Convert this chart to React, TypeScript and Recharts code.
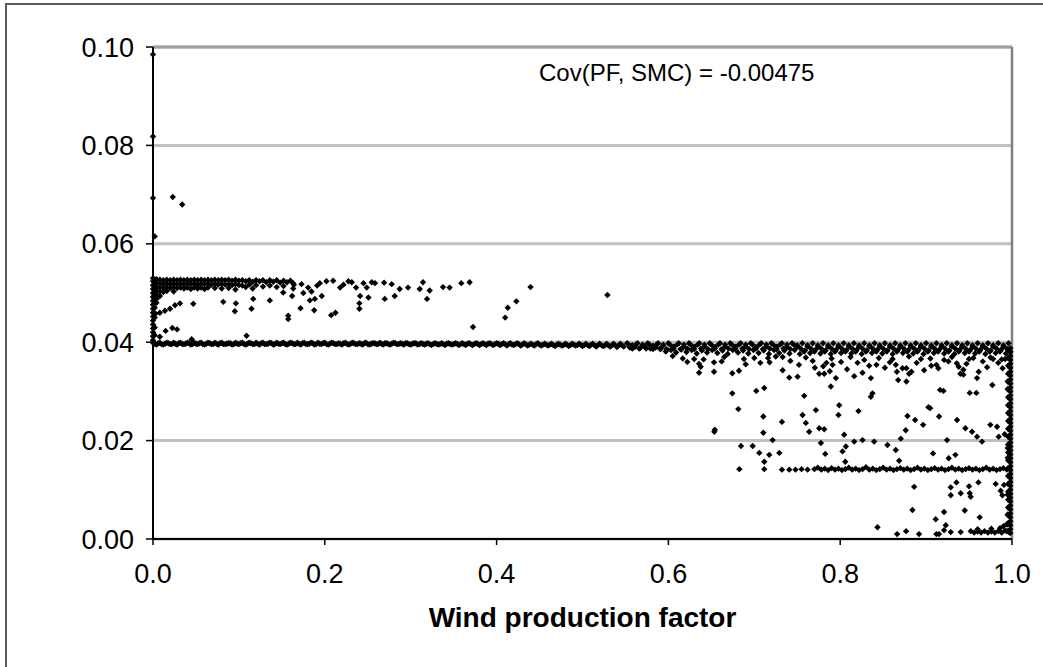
import { ScatterChart, Scatter, XAxis, YAxis, CartesianGrid, ReferenceLine } from "recharts";

type Pt = [number, number];

const xTicks = [0, 0.2, 0.4, 0.6, 0.8, 1.0];
const yTicks = [0, 0.02, 0.04, 0.06, 0.08, 0.1];
const xTitle = "Wind production factor";
const note = "Cov(PF, SMC) = -0.00475";

// isolated high prices near zero wind
const outliers: Pt[] = [
  [0, 0.0985], [0, 0.0818], [0, 0.0693], [0.002, 0.0615], [0.023, 0.0695], [0.034, 0.068],
];

// pile of points sitting on x = 0
const zeroColumn: Pt[] = [
  [0, 0.0404], [0, 0.0412], [0, 0.042], [0, 0.0428], [0, 0.0436], [0, 0.0444], [0, 0.0452],
  [0, 0.046], [0, 0.0468], [0, 0.0476], [0, 0.0484], [0, 0.0492], [0, 0.05], [0, 0.0508],
  [0, 0.0516], [0, 0.0524], [0, 0.053], [0.002, 0.043], [0.002, 0.047], [0.002, 0.049],
  [0.002, 0.051], [0.002, 0.0527], [0.002, 0.0414], [0.002, 0.045], [0.003, 0.0458],
];

// dense band around 0.052 at low wind
const upperBand: Pt[] = [
  [0.004, 0.0528], [0.004, 0.052], [0.004, 0.0512], [0.004, 0.0504], [0.004, 0.0496], [0.004, 0.0488], [0.004, 0.048],
  [0.008, 0.0527], [0.008, 0.0519], [0.008, 0.0511], [0.008, 0.0503], [0.008, 0.0494],
  [0.012, 0.0526], [0.012, 0.0518], [0.012, 0.051], [0.012, 0.0502],
  [0.016, 0.0527], [0.016, 0.0519], [0.016, 0.0511], [0.016, 0.0504],
  [0.02, 0.0526], [0.02, 0.0518], [0.02, 0.051],
  [0.024, 0.0527], [0.024, 0.0519], [0.024, 0.0511], [0.024, 0.0503],
  [0.028, 0.0526], [0.028, 0.0518], [0.028, 0.051],
  [0.032, 0.0527], [0.032, 0.0519], [0.032, 0.0511],
  [0.036, 0.0526], [0.036, 0.0518], [0.036, 0.0509],
  [0.04, 0.0527], [0.04, 0.0519], [0.04, 0.0511],
  [0.044, 0.0526], [0.044, 0.0518], [0.044, 0.0508],
  [0.048, 0.0527], [0.048, 0.0519], [0.048, 0.0511],
  [0.052, 0.0526], [0.052, 0.0517], [0.052, 0.0509],
  [0.056, 0.0527], [0.056, 0.0519], [0.056, 0.0511],
  [0.06, 0.0526], [0.06, 0.0518], [0.06, 0.0508],
  [0.064, 0.0527], [0.064, 0.0519], [0.064, 0.0511],
  [0.068, 0.0526], [0.068, 0.0517],
  [0.072, 0.0527], [0.072, 0.0519], [0.072, 0.051],
  [0.076, 0.0526], [0.076, 0.0517],
  [0.08, 0.0527], [0.08, 0.0519], [0.08, 0.0509],
  [0.084, 0.0526], [0.084, 0.0517],
  [0.088, 0.0527], [0.088, 0.0518], [0.088, 0.051],
  [0.092, 0.0525], [0.092, 0.0516],
  [0.096, 0.0527], [0.096, 0.0518], [0.096, 0.0507],
  [0.1, 0.0525], [0.1, 0.0516],
  [0.104, 0.0526], [0.104, 0.0515], [0.108, 0.0524], [0.108, 0.0512], [0.112, 0.0526], [0.112, 0.0517],
  [0.116, 0.0523], [0.116, 0.0509], [0.12, 0.0526], [0.12, 0.0516], [0.124, 0.0524], [0.128, 0.0526],
  [0.128, 0.0513], [0.132, 0.0522], [0.136, 0.0526], [0.136, 0.0515], [0.14, 0.0523], [0.144, 0.0526],
  [0.144, 0.0512], [0.148, 0.0521], [0.152, 0.0525], [0.152, 0.0514], [0.156, 0.0522], [0.16, 0.0525],
  [0.164, 0.0517],
];

const upperScatter: Pt[] = [
  [0.008, 0.046], [0.0139, 0.0464], [0.0198, 0.0468], [0.0256, 0.0475], [0.0314, 0.0479], [0.0469, 0.0478],
  [0.0818, 0.0482], [0.0953, 0.0463], [0.0965, 0.0479], [0.1147, 0.0468], [0.1167, 0.0488], [0.136, 0.0485],
  [0.1516, 0.0501], [0.1574, 0.0454], [0.1574, 0.0447], [0.1632, 0.052], [0.1729, 0.0518], [0.1806, 0.0511],
  [0.1632, 0.0509], [0.162, 0.0494], [0.1717, 0.0469], [0.1826, 0.0485], [0.1884, 0.0488], [0.1876, 0.0465],
  [0.175, 0.05], [0.1845, 0.0503], [0.1911, 0.0515], [0.1942, 0.052], [0.2019, 0.0524], [0.2097, 0.0525],
  [0.1965, 0.0494], [0.2074, 0.0455], [0.2124, 0.046], [0.2178, 0.0511], [0.2217, 0.0517], [0.2275, 0.0524],
  [0.2314, 0.0522], [0.2364, 0.0511], [0.2411, 0.0494], [0.2403, 0.0479], [0.2403, 0.0468], [0.2508, 0.0491],
  [0.245, 0.052], [0.2488, 0.0511], [0.2547, 0.0522], [0.2585, 0.052], [0.269, 0.0521], [0.2779, 0.0518],
  [0.2698, 0.0488], [0.2814, 0.0494], [0.2872, 0.0508], [0.2969, 0.0511], [0.3105, 0.0508], [0.3143, 0.0522],
  [0.319, 0.0488], [0.3221, 0.0505], [0.3376, 0.0512], [0.3453, 0.0511], [0.3589, 0.052], [0.3686, 0.0522],
  [0.3725, 0.0431], [0.41, 0.045], [0.413, 0.047], [0.423, 0.0483], [0.4395, 0.0512], [0.529, 0.0496],
  [0.008, 0.0411], [0.0147, 0.0423], [0.0225, 0.0429], [0.028, 0.0426], [0.1089, 0.0413], [0.045, 0.0406],
];

// the flat line at 0.04
const baseBandLeft: Pt[] = [
  [0, 0.0399], [0.004, 0.0395], [0.008, 0.0399], [0.012, 0.0395], [0.016, 0.0399], [0.02, 0.0396],
  [0.024, 0.0399], [0.028, 0.0395], [0.032, 0.0399], [0.036, 0.0396], [0.04, 0.0399], [0.044, 0.0395],
  [0.048, 0.0399], [0.052, 0.0396], [0.056, 0.0399], [0.06, 0.0395], [0.064, 0.0399], [0.068, 0.0396],
  [0.072, 0.0399], [0.076, 0.0395], [0.08, 0.0399], [0.084, 0.0396], [0.088, 0.0398], [0.092, 0.0395],
  [0.096, 0.0399], [0.1, 0.0396], [0.104, 0.0399], [0.108, 0.0395], [0.112, 0.0399], [0.116, 0.0396],
  [0.12, 0.0399], [0.124, 0.0395], [0.128, 0.0399], [0.132, 0.0396], [0.136, 0.0399], [0.14, 0.0395],
  [0.144, 0.0399], [0.148, 0.0396], [0.152, 0.0399], [0.156, 0.0395], [0.16, 0.0399], [0.164, 0.0396],
  [0.168, 0.0399], [0.172, 0.0395], [0.176, 0.0399], [0.18, 0.0396], [0.184, 0.0399], [0.188, 0.0395],
  [0.192, 0.0399], [0.196, 0.0396], [0.2, 0.0399], [0.204, 0.0395], [0.208, 0.0399], [0.212, 0.0396],
  [0.216, 0.0398], [0.22, 0.0395], [0.224, 0.0399], [0.228, 0.0395], [0.232, 0.0399], [0.236, 0.0396],
  [0.24, 0.0398], [0.244, 0.0395], [0.248, 0.0399], [0.252, 0.0395], [0.256, 0.0398], [0.26, 0.0396],
  [0.264, 0.0399], [0.268, 0.0395], [0.272, 0.0398], [0.276, 0.0395], [0.28, 0.0399], [0.284, 0.0396],
  [0.288, 0.0398], [0.292, 0.0395], [0.296, 0.0398], [0.3, 0.0395], [0.304, 0.0398], [0.308, 0.0395],
  [0.312, 0.0398], [0.316, 0.0395], [0.32, 0.0398], [0.324, 0.0394], [0.328, 0.0398], [0.332, 0.0395],
  [0.336, 0.0398], [0.34, 0.0394], [0.344, 0.0398], [0.348, 0.0395], [0.352, 0.0398], [0.356, 0.0394],
  [0.36, 0.0398], [0.364, 0.0394], [0.368, 0.0398], [0.372, 0.0394], [0.376, 0.0398], [0.38, 0.0394],
  [0.384, 0.0398], [0.388, 0.0394], [0.392, 0.0398], [0.396, 0.0394], [0.4, 0.0398], [0.404, 0.0394],
  [0.408, 0.0398], [0.412, 0.0393], [0.416, 0.0398], [0.42, 0.0394], [0.424, 0.0398], [0.428, 0.0393],
  [0.432, 0.0398], [0.436, 0.0393], [0.44, 0.0397], [0.444, 0.0393], [0.448, 0.0398], [0.452, 0.0393],
  [0.456, 0.0397], [0.46, 0.0393], [0.464, 0.0397], [0.468, 0.0392], [0.472, 0.0397], [0.476, 0.0393],
  [0.48, 0.0397], [0.484, 0.0392], [0.488, 0.0397], [0.492, 0.0393], [0.496, 0.0397], [0.5, 0.0392],
  [0.504, 0.0397], [0.508, 0.0392], [0.512, 0.0397], [0.516, 0.0391], [0.52, 0.0397], [0.524, 0.0392],
  [0.528, 0.0397], [0.532, 0.0391], [0.536, 0.0397], [0.54, 0.039], [0.544, 0.0397], [0.548, 0.0391],
];

const baseBandLeftFill: Pt[] = [
  [0.002, 0.0397], [0.006, 0.0398], [0.01, 0.0396], [0.014, 0.0397], [0.018, 0.0398], [0.022, 0.0396],
  [0.026, 0.0397], [0.03, 0.0398], [0.034, 0.0396], [0.038, 0.0397], [0.042, 0.0398], [0.046, 0.0396],
  [0.05, 0.0397], [0.054, 0.0398], [0.058, 0.0396], [0.062, 0.0397], [0.066, 0.0398], [0.07, 0.0396],
  [0.074, 0.0397], [0.078, 0.0398], [0.082, 0.0396], [0.086, 0.0397], [0.09, 0.0398], [0.094, 0.0396],
  [0.098, 0.0397], [0.102, 0.0398], [0.106, 0.0396], [0.11, 0.0397], [0.114, 0.0398], [0.118, 0.0396],
  [0.122, 0.0397], [0.126, 0.0398], [0.13, 0.0396], [0.134, 0.0397], [0.138, 0.0398], [0.142, 0.0396],
  [0.146, 0.0397], [0.15, 0.0398], [0.154, 0.0396], [0.158, 0.0397], [0.162, 0.0398], [0.166, 0.0396],
  [0.17, 0.0397], [0.174, 0.0398], [0.178, 0.0396], [0.182, 0.0397], [0.186, 0.0398], [0.19, 0.0396],
  [0.194, 0.0397], [0.198, 0.0398], [0.202, 0.0396], [0.206, 0.0397], [0.21, 0.0398], [0.214, 0.0396],
  [0.218, 0.0397], [0.222, 0.0398], [0.226, 0.0396], [0.23, 0.0397], [0.234, 0.0398], [0.238, 0.0396],
  [0.242, 0.0397], [0.246, 0.0398], [0.25, 0.0396], [0.254, 0.0397], [0.258, 0.0398], [0.262, 0.0396],
  [0.266, 0.0397], [0.27, 0.0398], [0.274, 0.0396], [0.278, 0.0397], [0.282, 0.0398], [0.286, 0.0396],
  [0.29, 0.0397], [0.294, 0.0398], [0.298, 0.0396], [0.302, 0.0397], [0.306, 0.0398], [0.31, 0.0396],
  [0.314, 0.0397], [0.318, 0.0397], [0.322, 0.0396], [0.326, 0.0396], [0.33, 0.0397], [0.334, 0.0396],
  [0.338, 0.0396], [0.342, 0.0397], [0.346, 0.0396], [0.35, 0.0396], [0.354, 0.0397], [0.358, 0.0396],
  [0.362, 0.0396], [0.366, 0.0397], [0.37, 0.0396], [0.374, 0.0396], [0.378, 0.0397], [0.382, 0.0396],
  [0.386, 0.0396], [0.39, 0.0397], [0.394, 0.0396], [0.398, 0.0396], [0.402, 0.0397], [0.406, 0.0396],
  [0.41, 0.0396], [0.414, 0.0396], [0.418, 0.0395], [0.422, 0.0396], [0.426, 0.0396], [0.43, 0.0395],
  [0.434, 0.0396], [0.438, 0.0395], [0.442, 0.0395], [0.446, 0.0396], [0.45, 0.0395], [0.454, 0.0395],
  [0.458, 0.0395], [0.462, 0.0395], [0.466, 0.0394], [0.47, 0.0395], [0.474, 0.0395], [0.478, 0.0394],
  [0.482, 0.0395], [0.486, 0.0394], [0.49, 0.0395], [0.494, 0.0394], [0.498, 0.0395], [0.502, 0.0394],
  [0.506, 0.0394], [0.51, 0.0395], [0.514, 0.0394], [0.518, 0.0394], [0.522, 0.0394], [0.526, 0.0393],
  [0.53, 0.0394], [0.534, 0.0393], [0.538, 0.0394], [0.542, 0.0393], [0.546, 0.0394],
];

const baseBandRight: Pt[] = [
  [0.552, 0.0398], [0.555, 0.0389], [0.558, 0.0394], [0.561, 0.039], [0.564, 0.0398], [0.567, 0.0388],
  [0.57, 0.0394], [0.573, 0.039], [0.576, 0.0398], [0.579, 0.0387], [0.582, 0.0393], [0.585, 0.0389],
  [0.588, 0.0398], [0.591, 0.0386], [0.594, 0.0393], [0.597, 0.0381], [0.6, 0.0398], [0.603, 0.0384],
  [0.606, 0.0391], [0.609, 0.0379], [0.612, 0.0398], [0.615, 0.0385], [0.618, 0.0391], [0.621, 0.038],
  [0.624, 0.0398], [0.627, 0.0384], [0.63, 0.0391], [0.633, 0.0377], [0.636, 0.0398], [0.639, 0.0383],
  [0.642, 0.0391], [0.645, 0.0379], [0.648, 0.0398], [0.651, 0.0384], [0.654, 0.039], [0.657, 0.0378],
  [0.66, 0.0398], [0.663, 0.0383], [0.666, 0.0391], [0.669, 0.0376], [0.672, 0.0398], [0.675, 0.0384],
  [0.678, 0.0391], [0.681, 0.0379], [0.684, 0.0398], [0.687, 0.0383], [0.69, 0.0391], [0.693, 0.0377],
  [0.696, 0.0398], [0.699, 0.0384], [0.702, 0.039], [0.705, 0.0378], [0.708, 0.0398], [0.711, 0.0383],
  [0.714, 0.0391], [0.717, 0.0376], [0.72, 0.0398], [0.723, 0.0384], [0.726, 0.0391], [0.729, 0.0378],
  [0.732, 0.0398], [0.735, 0.0383], [0.738, 0.039], [0.741, 0.0377], [0.744, 0.0398], [0.747, 0.0384],
  [0.75, 0.0391], [0.753, 0.0376], [0.756, 0.0398], [0.759, 0.0383], [0.762, 0.0391], [0.765, 0.0378],
  [0.768, 0.0398], [0.771, 0.0384], [0.774, 0.039], [0.777, 0.0377], [0.78, 0.0398], [0.783, 0.0383],
  [0.786, 0.0391], [0.789, 0.0376], [0.792, 0.0398], [0.795, 0.0384], [0.798, 0.0391], [0.801, 0.0378],
  [0.804, 0.0398], [0.807, 0.0383], [0.81, 0.039], [0.813, 0.0377], [0.816, 0.0398], [0.819, 0.0384],
  [0.822, 0.0391], [0.825, 0.0376], [0.828, 0.0398], [0.831, 0.0383], [0.834, 0.0391], [0.837, 0.0378],
  [0.84, 0.0398], [0.843, 0.0384], [0.846, 0.039], [0.849, 0.0377], [0.852, 0.0398], [0.855, 0.0383],
  [0.858, 0.0391], [0.861, 0.0376], [0.864, 0.0398], [0.867, 0.0384], [0.87, 0.0391], [0.873, 0.0378],
  [0.876, 0.0398], [0.879, 0.0383], [0.882, 0.039], [0.885, 0.0377], [0.888, 0.0398], [0.891, 0.0384],
  [0.894, 0.0391], [0.897, 0.0376], [0.9, 0.0398], [0.903, 0.0383], [0.906, 0.0391], [0.909, 0.0378],
  [0.912, 0.0398], [0.915, 0.0384], [0.918, 0.039], [0.921, 0.0377], [0.924, 0.0398], [0.927, 0.0383],
  [0.93, 0.0391], [0.933, 0.0376], [0.936, 0.0398], [0.939, 0.0384], [0.942, 0.0391], [0.945, 0.0378],
  [0.948, 0.0398], [0.951, 0.0383], [0.954, 0.039], [0.957, 0.0377], [0.96, 0.0398], [0.963, 0.0384],
  [0.966, 0.0391], [0.969, 0.0376], [0.972, 0.0398], [0.975, 0.0383], [0.978, 0.0391], [0.981, 0.0378],
  [0.984, 0.0398], [0.987, 0.0384], [0.99, 0.039], [0.993, 0.0377], [0.996, 0.0398],
];

const baseBandRightFill: Pt[] = [
  [0.554, 0.0395], [0.558, 0.0387], [0.562, 0.0395], [0.566, 0.0387], [0.57, 0.0395], [0.574, 0.0387],
  [0.578, 0.0395], [0.582, 0.0386], [0.586, 0.0395], [0.59, 0.0387], [0.594, 0.0395], [0.598, 0.0386],
  [0.602, 0.0395], [0.606, 0.0387], [0.61, 0.0395], [0.614, 0.0386], [0.618, 0.0395], [0.622, 0.0387],
  [0.626, 0.0395], [0.63, 0.0386], [0.634, 0.0395], [0.638, 0.0387], [0.642, 0.0395], [0.646, 0.0386],
  [0.65, 0.0395], [0.654, 0.0387], [0.658, 0.0395], [0.662, 0.0386], [0.666, 0.0395], [0.67, 0.0387],
  [0.674, 0.0395], [0.678, 0.0386], [0.682, 0.0395], [0.686, 0.0387], [0.69, 0.0395], [0.694, 0.0386],
  [0.698, 0.0395], [0.702, 0.0387], [0.706, 0.0395], [0.71, 0.0386], [0.714, 0.0395], [0.718, 0.0387],
  [0.722, 0.0395], [0.726, 0.0386], [0.73, 0.0395], [0.734, 0.0387], [0.738, 0.0395], [0.742, 0.0386],
  [0.746, 0.0395], [0.75, 0.0394], [0.754, 0.0387], [0.758, 0.0381], [0.762, 0.0394], [0.766, 0.0387],
  [0.77, 0.0381], [0.774, 0.0394], [0.778, 0.0387], [0.782, 0.0381], [0.786, 0.0394], [0.79, 0.0387],
  [0.794, 0.0381], [0.798, 0.0394], [0.802, 0.0387], [0.806, 0.0381], [0.81, 0.0394], [0.814, 0.0387],
  [0.818, 0.0381], [0.822, 0.0394], [0.826, 0.0387], [0.83, 0.0381], [0.834, 0.0394], [0.838, 0.0387],
  [0.842, 0.0381], [0.846, 0.0394], [0.85, 0.0387], [0.854, 0.0381], [0.858, 0.0394], [0.862, 0.0387],
  [0.866, 0.0381], [0.87, 0.0394], [0.874, 0.0387], [0.878, 0.0381], [0.882, 0.0394], [0.886, 0.0387],
  [0.89, 0.0381], [0.894, 0.0394], [0.898, 0.0387], [0.902, 0.0381], [0.906, 0.0394], [0.91, 0.0387],
  [0.914, 0.0381], [0.918, 0.0394], [0.922, 0.0387], [0.926, 0.0381], [0.93, 0.0394], [0.934, 0.0387],
  [0.938, 0.0381], [0.942, 0.0394], [0.946, 0.0387], [0.95, 0.0381], [0.954, 0.0394], [0.958, 0.0387],
  [0.962, 0.0381], [0.966, 0.0394], [0.97, 0.0387], [0.974, 0.0381], [0.978, 0.0394], [0.982, 0.0387],
  [0.986, 0.0381], [0.99, 0.0394], [0.994, 0.0387], [0.998, 0.0381],
];

const bandFringe: Pt[] = [
  [0.665, 0.037], [0.7, 0.0368], [0.725, 0.0371], [0.76, 0.0369], [0.79, 0.0367], [0.812, 0.037],
  [0.845, 0.0368], [0.88, 0.0371], [0.905, 0.0367], [0.93, 0.037], [0.955, 0.0368], [0.975, 0.0369],
  [0.992, 0.0366], [0.605, 0.0372], [0.622, 0.036], [0.641, 0.0365], [0.662, 0.0361], [0.688, 0.0366],
  [0.707, 0.0358], [0.716, 0.0368], [0.742, 0.0362], [0.752, 0.0354], [0.768, 0.0362], [0.801, 0.036],
  [0.808, 0.0345], [0.828, 0.0364], [0.852, 0.0348], [0.861, 0.0366], [0.889, 0.0358], [0.894, 0.0366],
  [0.906, 0.0352], [0.921, 0.0364], [0.947, 0.0356], [0.966, 0.0361], [0.971, 0.0349], [0.984, 0.0358],
  [0.989, 0.0347], [0.978, 0.0366], [0.866, 0.034], [0.784, 0.0358], [0.733, 0.037], [0.69, 0.0355],
  [0.95, 0.0366],
];

// scattered low prices at high wind
const lowScatter: Pt[] = [
  [0.6167, 0.0367], [0.63, 0.0366], [0.6357, 0.0356], [0.6376, 0.035], [0.6357, 0.0338], [0.6531, 0.0359],
  [0.6531, 0.034], [0.6535, 0.0218], [0.654, 0.0222], [0.6744, 0.0337], [0.6822, 0.0342], [0.6744, 0.0296],
  [0.6814, 0.0264], [0.6845, 0.0189], [0.6826, 0.0142], [0.6981, 0.0189], [0.7023, 0.0301], [0.7116, 0.0307],
  [0.7178, 0.0359], [0.7105, 0.0249], [0.7105, 0.0216], [0.7213, 0.0201], [0.7058, 0.0175], [0.7174, 0.0171],
  [0.7116, 0.0157], [0.7291, 0.0175], [0.7116, 0.0142], [0.7322, 0.0238], [0.733, 0.0343], [0.7407, 0.0328],
  [0.7504, 0.033], [0.7581, 0.0291], [0.7562, 0.0252], [0.76, 0.0236], [0.7639, 0.0218], [0.7717, 0.0262],
  [0.7756, 0.0225], [0.7814, 0.0223], [0.7775, 0.0195], [0.7826, 0.0173], [0.7705, 0.0348], [0.7756, 0.0336],
  [0.7814, 0.0336], [0.7802, 0.0351], [0.7879, 0.0341], [0.7891, 0.031], [0.7911, 0.0354], [0.795, 0.0327],
  [0.7988, 0.0272], [0.798, 0.0252], [0.8047, 0.0212], [0.8066, 0.0188], [0.8027, 0.0178], [0.8059, 0.0157],
  [0.8163, 0.0198], [0.826, 0.0201], [0.8213, 0.026], [0.8357, 0.0289], [0.8376, 0.0296], [0.8395, 0.0198],
  [0.8163, 0.0331], [0.826, 0.0338], [0.8357, 0.0327], [0.8202, 0.0358], [0.8337, 0.0352], [0.8422, 0.0354],
  [0.8578, 0.0359], [0.8647, 0.0354], [0.8771, 0.0347], [0.8829, 0.034], [0.8675, 0.0323], [0.8771, 0.032],
  [0.855, 0.0191], [0.8647, 0.0181], [0.8686, 0.0159], [0.8705, 0.0204], [0.8763, 0.0221], [0.8783, 0.025],
  [0.8872, 0.0242], [0.8965, 0.0232], [0.9027, 0.0268], [0.9151, 0.0249], [0.9163, 0.0303], [0.9081, 0.0174],
  [0.9244, 0.0201], [0.9263, 0.0164], [0.9341, 0.0171], [0.936, 0.0242], [0.9457, 0.0225], [0.9535, 0.0218],
  [0.9593, 0.0208], [0.9651, 0.0198], [0.9748, 0.0232], [0.9826, 0.0228], [0.9845, 0.0208], [0.9915, 0.0213],
  [0.9508, 0.0297], [0.9585, 0.0297], [0.9771, 0.0313], [0.938, 0.035], [0.9399, 0.0336], [0.9593, 0.0327],
  [0.9612, 0.034], [0.8725, 0.0347], [0.8802, 0.0336], [0.8977, 0.0343], [0.912, 0.0354], [0.9143, 0.0347],
  [0.9202, 0.0301], [0.9047, 0.0266], [0.926, 0.0361], [0.9357, 0.0357], [0.9434, 0.0344], [0.9434, 0.0334],
  [0.988, 0.0365],
  [0.8861, 0.0106], [0.8841, 0.0059], [0.8434, 0.0024], [0.8663, 0.001], [0.8767, 0.0016], [0.8918, 0.001],
  [0.912, 0.001], [0.915, 0.001], [0.9209, 0.0018], [0.9112, 0.004], [0.9209, 0.0055], [0.9229, 0.0028],
  [0.9287, 0.0014], [0.9403, 0.0014], [0.9287, 0.0089], [0.9287, 0.0105], [0.9353, 0.0115], [0.9403, 0.0093],
  [0.945, 0.0058], [0.95, 0.0107], [0.9508, 0.0093], [0.9519, 0.0086], [0.9609, 0.0115], [0.9624, 0.0044],
  [0.981, 0.0112], [0.9868, 0.0098], [0.9888, 0.0089], [0.9907, 0.011],
];

// second flat line near 0.014
const band14: Pt[] = [
  [0.7322, 0.0141], [0.7407, 0.0141], [0.748, 0.0141], [0.755, 0.0142], [0.762, 0.0141],
  [0.77, 0.0142], [0.774, 0.0145], [0.778, 0.0141], [0.782, 0.0143], [0.786, 0.014], [0.79, 0.0144],
  [0.794, 0.0141], [0.798, 0.0143], [0.802, 0.014], [0.806, 0.0142], [0.81, 0.0145], [0.814, 0.0141],
  [0.818, 0.0143], [0.822, 0.014], [0.826, 0.0142], [0.83, 0.0146], [0.834, 0.0141], [0.838, 0.0143],
  [0.842, 0.014], [0.846, 0.0142], [0.85, 0.0145], [0.854, 0.0141], [0.858, 0.0143], [0.862, 0.014],
  [0.866, 0.0142], [0.87, 0.0144], [0.874, 0.0141], [0.878, 0.0143], [0.882, 0.014], [0.886, 0.0142],
  [0.89, 0.0145], [0.894, 0.0141], [0.898, 0.0143], [0.902, 0.014], [0.906, 0.0142], [0.91, 0.0144],
  [0.914, 0.0141], [0.918, 0.0143], [0.922, 0.014], [0.926, 0.0142], [0.93, 0.0145], [0.934, 0.0141],
  [0.938, 0.0143], [0.942, 0.014], [0.946, 0.0142], [0.95, 0.0144], [0.954, 0.0141], [0.958, 0.0143],
  [0.962, 0.014], [0.966, 0.0142], [0.97, 0.0145], [0.974, 0.0141], [0.978, 0.0143], [0.982, 0.014],
  [0.986, 0.0142], [0.99, 0.0144], [0.994, 0.0141],
];

// full output column at x = 1
const edgeColumn: Pt[] = [
  [0.998, 0.0012], [0.998, 0.002], [0.998, 0.0028], [0.998, 0.0036], [0.998, 0.0044], [0.998, 0.0052],
  [0.998, 0.006], [0.998, 0.0068], [0.998, 0.0076], [0.998, 0.0084], [0.998, 0.0092], [0.998, 0.01],
  [0.998, 0.0108], [0.998, 0.0116], [0.998, 0.0124], [0.998, 0.0132], [0.998, 0.014], [0.998, 0.0148],
  [0.998, 0.0156], [0.998, 0.0164], [0.998, 0.0172], [0.998, 0.018], [0.998, 0.0188], [0.998, 0.0196],
  [0.998, 0.0204], [0.998, 0.0212], [0.998, 0.022], [0.998, 0.0228], [0.998, 0.0236], [0.998, 0.0244],
  [0.998, 0.0252], [0.998, 0.026], [0.998, 0.0268], [0.998, 0.0276], [0.998, 0.0284], [0.998, 0.0292],
  [0.998, 0.03], [0.998, 0.0308], [0.998, 0.0316], [0.998, 0.0324], [0.998, 0.0332], [0.998, 0.034],
  [0.998, 0.0348], [0.998, 0.0356], [0.998, 0.0364], [0.998, 0.0372], [0.998, 0.038], [0.998, 0.0388],
  [0.995, 0.003], [0.995, 0.005], [0.995, 0.009], [0.995, 0.0165], [0.995, 0.0185], [0.995, 0.0305],
  [0.995, 0.032], [0.994, 0.0016],
];

const edgeColumnInner: Pt[] = [
  [0.9955, 0.0016], [0.9955, 0.0032], [0.9955, 0.0048], [0.9955, 0.0064], [0.9955, 0.008], [0.9955, 0.0096],
  [0.9955, 0.0112], [0.9955, 0.0128], [0.9955, 0.0144], [0.9955, 0.016], [0.9955, 0.0176], [0.9955, 0.0192],
  [0.9955, 0.0208], [0.9955, 0.0224], [0.9955, 0.024], [0.9955, 0.0256], [0.9955, 0.0272], [0.9955, 0.0288],
  [0.9955, 0.0304], [0.9955, 0.032], [0.9955, 0.0336], [0.9955, 0.0352], [0.9955, 0.0368], [0.9955, 0.0384],
];

const floorCluster: Pt[] = [
  [0.952, 0.0016], [0.956, 0.0013], [0.96, 0.0015], [0.964, 0.0013], [0.968, 0.0016], [0.972, 0.0013],
  [0.976, 0.0015], [0.98, 0.0013], [0.984, 0.0016], [0.988, 0.0013], [0.992, 0.0017], [0.996, 0.0014],
  [0.96, 0.002], [0.976, 0.0021], [0.986, 0.0022], [0.99, 0.0026], [0.994, 0.003],
];

const groups: Pt[][] = [
  outliers, zeroColumn, upperBand, upperScatter, baseBandLeft, baseBandLeftFill, baseBandRight,
  baseBandRightFill, bandFringe, lowScatter, band14, edgeColumn, edgeColumnInner, floorCluster,
];

const font = "'Liberation Sans', Arial, sans-serif";

const Diamond = (props: any) => {
  const { cx, cy } = props;
  if (cx == null || cy == null) return null;
  const r = 3.2;
  return <path d={`M${cx},${cy - r}L${cx + r},${cy}L${cx},${cy + r}L${cx - r},${cy}Z`} fill="#000" />;
};

export default function App() {
  return (
    <div style={{ position: "absolute", left: 0, top: 0, width: 1043, height: 667, overflow: "hidden", background: "#fff" }}>
      <div style={{ position: "absolute", left: 5, top: 3, width: 1100, height: 720, border: "2px solid #5a5a5a" }} />
      <ScatterChart
        width={1043}
        height={667}
        margin={{ top: 47, right: 31, left: 53, bottom: 38 }}
        style={{ position: "absolute", left: 0, top: 0 }}
      >
        <CartesianGrid vertical={false} stroke="#c0c0c0" strokeWidth={3} />
        <ReferenceLine y={0.1} stroke="#a0a0a0" strokeWidth={3} />
        <ReferenceLine x={1} stroke="#808080" strokeWidth={2.5} />
        <XAxis
          type="number"
          dataKey="x"
          domain={[0, 1]}
          ticks={xTicks}
          tickFormatter={(v: number) => v.toFixed(1)}
          height={90}
          axisLine={{ stroke: "#000", strokeWidth: 2 }}
          tickLine={{ stroke: "#000", strokeWidth: 1.5 }}
          tickSize={6}
          tickMargin={19}
          tick={{ fontSize: 27, fill: "#000", fontFamily: font }}
          label={{ value: xTitle, position: "insideBottom", offset: 2, fontSize: 28, fontWeight: "bold", fill: "#000", fontFamily: font }}
        />
        <YAxis
          type="number"
          dataKey="y"
          domain={[0, 0.1]}
          ticks={yTicks}
          tickFormatter={(v: number) => v.toFixed(2)}
          width={100}
          axisLine={{ stroke: "#000", strokeWidth: 2 }}
          tickLine={{ stroke: "#000", strokeWidth: 1.5 }}
          tickSize={7}
          tickMargin={12}
          tick={{ fontSize: 27, fill: "#000", fontFamily: font }}
        />
        {groups.map((g, i) => (
          <Scatter
            key={i}
            data={g.map(([x, y]) => ({ x, y }))}
            shape={Diamond}
            isAnimationActive={false}
          />
        ))}
      </ScatterChart>
      <div style={{ position: "absolute", left: 539, top: 61, fontFamily: font, fontSize: 24, lineHeight: "24px", color: "#000", whiteSpace: "nowrap" }}>
        {note}
      </div>
    </div>
  );
}
